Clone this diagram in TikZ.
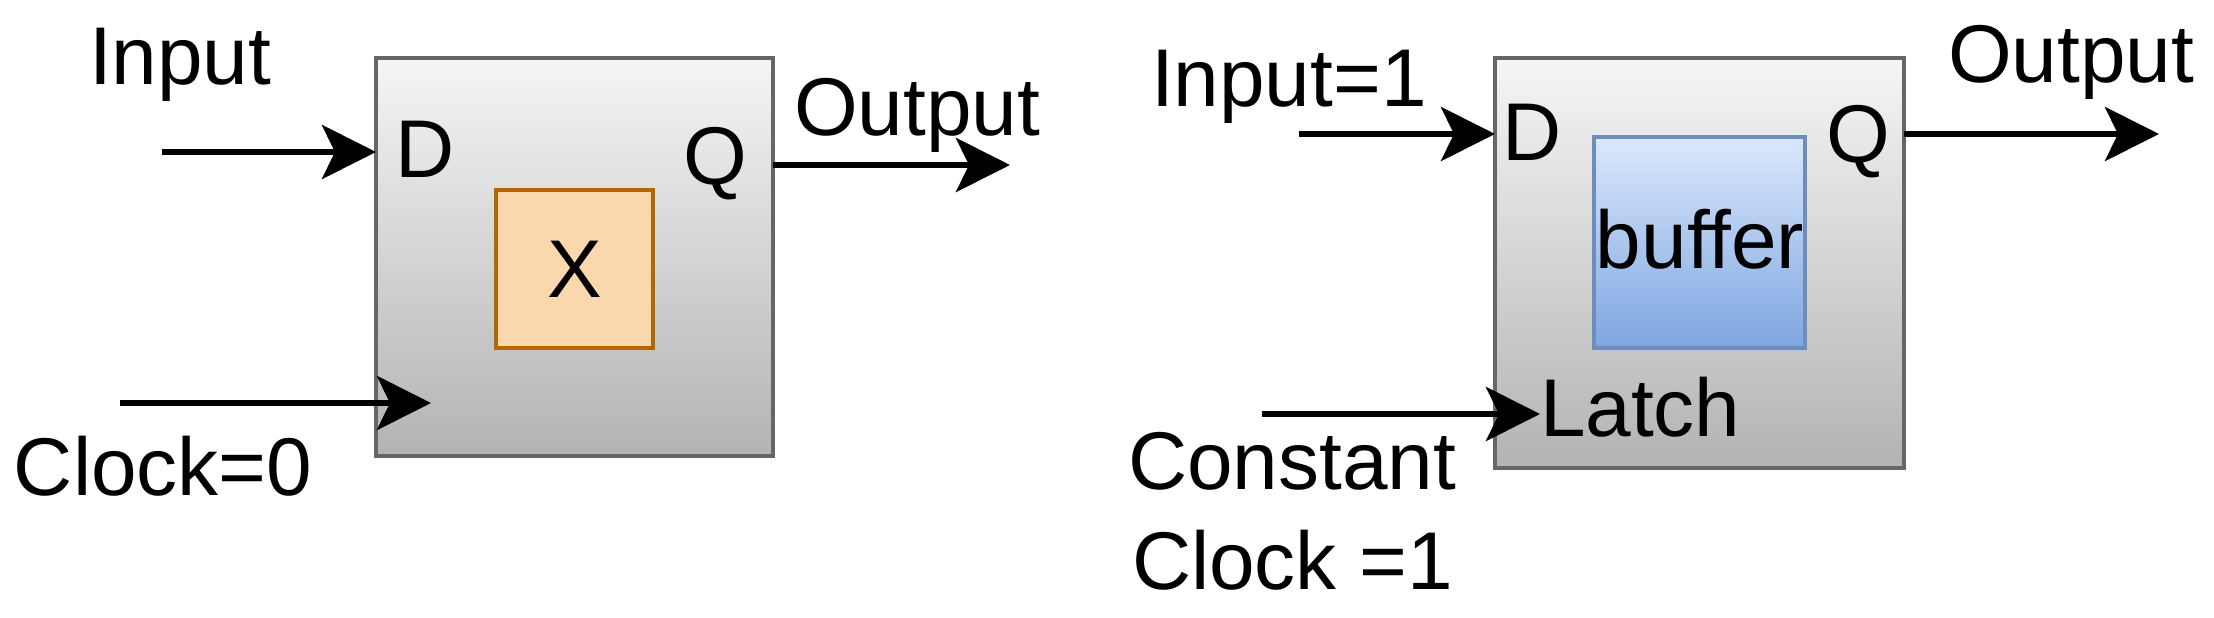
\documentclass[tikz,border=0pt]{standalone}
\usepackage{fontspec}
\setmainfont{Liberation Sans}
\usetikzlibrary{arrows.meta}
\definecolor{boxtop}{HTML}{F5F5F5}
\definecolor{boxbot}{HTML}{B3B3B3}
\definecolor{boxline}{HTML}{666666}
\definecolor{orfill}{HTML}{FAD7AC}
\definecolor{orline}{HTML}{B46504}
\definecolor{bltop}{HTML}{DAE8FC}
\definecolor{blbot}{HTML}{7EA6E0}
\definecolor{blline}{HTML}{6C8EBF}
\tikzset{
  lbl/.style={inner sep=0pt, outer sep=0pt, anchor=base west, font=\fontsize{23.3pt}{28pt}\selectfont},
  flop/.style={draw=boxline, line width=1.2pt, top color=boxtop, bottom color=boxbot, inner sep=0pt, outer sep=0pt, anchor=north west},
  xbox/.style={draw=orline, line width=1.2pt, fill=orfill, inner sep=0pt, outer sep=0pt, anchor=north west},
  bbox/.style={draw=blline, line width=1.2pt, top color=bltop, bottom color=blbot, inner sep=0pt, outer sep=0pt, anchor=north west},
  wire/.style={line width=1.7pt, -{Stealth[length=0.54cm, width=0.54cm, inset=0.13cm]}}
}
\begin{document}
\begin{tikzpicture}[x=0.01cm, y=-0.01cm]
\useasboundingbox (0,0) rectangle (2214,618);
% left flip-flop
\node[flop, minimum width=3.97cm, minimum height=3.98cm] (boxL) at (376,58) {};
\node[xbox, minimum width=1.57cm, minimum height=1.58cm] (xb) at (496,190) {};
\node[lbl, anchor=center] (xt) at (xb.center) {X};
\node[lbl] (inL) at (89,84) {Input};
\node[lbl] (dL) at (395,177) {D};
\node[lbl] (qL) at (683,184) {Q};
\node[lbl] (outL) at (794,136) {Output};
\node[lbl] (clkL) at (14,495) {Clock=0};
\coordinate (inLs) at (162,152);
\coordinate (clkLs) at (120,403);
\coordinate (clkLe) at (431,403);
\coordinate (outLe) at (1010,165);
\draw[wire] (inLs) -- (inLs -| boxL.west);
\draw[wire] (clkLs) -- (clkLe);
\draw[wire] (boxL.east |- outLe) -- (outLe);
% right latch
\node[flop, minimum width=4.09cm, minimum height=4.10cm] (boxR) at (1495,58) {};
\node[bbox, minimum width=2.11cm, minimum height=2.11cm] (bf) at (1594,137) {};
\node[lbl, anchor=base] (bft) at (1700,268) {buffer};
\node[lbl] (inR) at (1151,106) {Input=1};
\node[lbl] (dR) at (1502,160) {D};
\node[lbl] (qR) at (1826,162) {Q};
\node[lbl] (outR) at (1948,83) {Output};
\node[lbl] (latch) at (1540,436) {Latch};
\node[lbl] (cst) at (1128,489) {Constant};
\node[lbl] (clkR) at (1132,589) {Clock =1};
\coordinate (inRs) at (1299,134);
\coordinate (outRe) at (2159,134);
\coordinate (ltS) at (1262,414);
\draw[wire] (inRs) -- (inRs -| boxR.west);
\draw[wire] (boxR.east |- outRe) -- (outRe);
\draw[wire] (ltS) -- (ltS -| latch.west);
\end{tikzpicture}
\end{document}
